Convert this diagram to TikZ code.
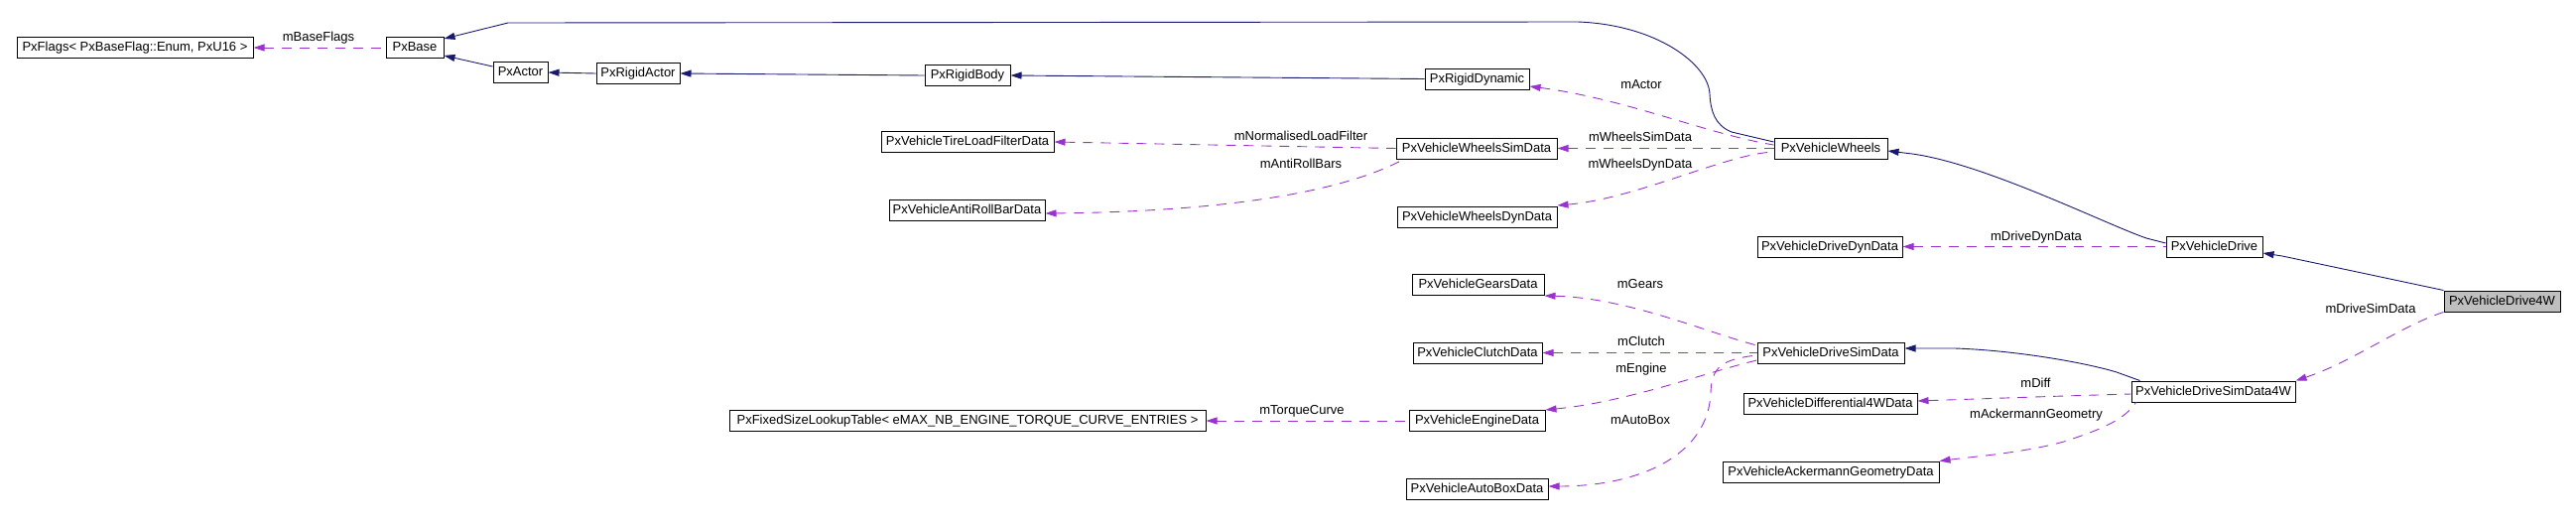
\documentclass[tikz,border=0pt]{standalone}
\usepackage{fontspec}
\setmainfont{Liberation Sans}
\usetikzlibrary{arrows.meta}
\definecolor{navyedge}{RGB}{25,25,112}
\definecolor{purpedge}{RGB}{154,50,205}
\definecolor{graybox}{RGB}{191,191,191}
\begin{document}
\begin{tikzpicture}[x=1pt,y=-1pt,
  cls/.style={draw=black, line width=1pt, fill=white, inner xsep=2pt, inner ysep=0pt,
    minimum height=21pt, font=\fontsize{13pt}{15pt}\selectfont, text height=9.5pt, text depth=2.5pt},
  inherit/.style={draw=navyedge, line width=0.9pt, {Triangle[length=11pt,width=7pt]}-},
  member/.style={draw=purpedge, line width=0.9pt, dash pattern=on 10pt off 8pt, {Triangle[length=11pt,width=7pt]}-},
  lbl/.style={font=\fontsize{13pt}{15pt}\selectfont, inner sep=0pt, text height=9.5pt, text depth=2.5pt}]
\useasboundingbox[fill=white] (0,0) rectangle (2596,528);

% nodes
\node[cls, minimum width=238pt] (flags) at (136,48) {PxFlags< PxBaseFlag::Enum, PxU16 >};
\node[cls, minimum width=58pt] (base) at (418,48) {PxBase};
\node[cls, minimum width=55pt] (actor) at (524.5,73) {PxActor};
\node[cls, minimum width=84pt] (rigidactor) at (643,74) {PxRigidActor};
\node[cls, minimum width=86pt] (rigidbody) at (975,76) {PxRigidBody};
\node[cls, minimum width=105pt] (rigiddynamic) at (1488.5,79.5) {PxRigidDynamic};
\node[cls, minimum width=174pt] (tireload) at (975,143) {PxVehicleTireLoadFilterData};
\node[cls, minimum width=157pt] (antiroll) at (974.5,212) {PxVehicleAntiRollBarData};
\node[cls, minimum width=480pt] (lookup) at (975,424) {PxFixedSizeLookupTable< eMAX\_NB\_ENGINE\_TORQUE\_CURVE\_ENTRIES >};
\node[cls, minimum width=162pt] (wheelssim) at (1488,149.5) {PxVehicleWheelsSimData};
\node[cls, minimum width=161pt] (wheelsdyn) at (1488.5,218.5) {PxVehicleWheelsDynData};
\node[cls, minimum width=133pt] (gears) at (1489.5,287) {PxVehicleGearsData};
\node[cls, minimum width=130pt] (clutch) at (1489,355.5) {PxVehicleClutchData};
\node[cls, minimum width=137pt] (engine) at (1488.5,424) {PxVehicleEngineData};
\node[cls, minimum width=143pt] (autobox) at (1488.5,492.5) {PxVehicleAutoBoxData};
\node[cls, minimum width=114pt] (wheels) at (1845,149.5) {PxVehicleWheels};
\node[cls, minimum width=146pt] (drivedyn) at (1844,248.5) {PxVehicleDriveDynData};
\node[cls, minimum width=148pt] (drivesim) at (1845,355.5) {PxVehicleDriveSimData};
\node[cls, minimum width=175pt] (diff4w) at (1844.5,407) {PxVehicleDifferential4WData};
\node[cls, minimum width=218pt] (ackermann) at (1845,475.5) {PxVehicleAckermannGeometryData};
\node[cls, minimum width=97pt] (drive) at (2231.5,248.5) {PxVehicleDrive};
\node[cls, minimum width=117pt, fill=graybox] (drive4w) at (2521.5,303.5) {PxVehicleDrive4W};
\node[cls, minimum width=165pt] (simdata4w) at (2230.5,394.5) {PxVehicleDriveSimData4W};

% inheritance edges
\draw[inherit] ([yshift=-8pt]base.east) -- ([yshift=6pt]actor.west);
\draw[inherit] (actor.east) -- (rigidactor.west);
\draw[inherit] (rigidactor.east) -- (rigidbody.west);
\draw[inherit] (rigidbody.east) -- (rigiddynamic.west);
\draw[inherit] ([yshift=9pt]base.east) -- (512,23) -- (1590,22)
  .. controls (1670,25) and (1722,65) .. (1723,95)
  .. controls (1724,112) and (1728,126) .. (1745,133) -- ([yshift=6.5pt]wheels.west);
\draw[inherit] ([yshift=-2.5pt]wheels.east) -- (1927,155)
  .. controls (2000,165) and (2120,225) .. (2163,240) -- ([yshift=3.5pt]drive.west);
\draw[inherit] ([yshift=-6.5pt]drive.east) -- (2300,258) -- (drive4w.north west);
\draw[inherit] ([yshift=4.5pt]drivesim.east) -- (1970,351)
  .. controls (2030,353) and (2100,365) .. (2133,375) -- ([xshift=9pt]simdata4w.north west);

% member edges
\draw[member] (flags.east) -- (base.west);
\draw[member] ([yshift=-7.5pt]rigiddynamic.east) .. controls (1640,100) and (1720,135) .. ([yshift=3.5pt]wheels.west);
\draw[member] (wheelssim.east) -- (wheels.west);
\draw[member] ([yshift=11.5pt]wheelsdyn.east) .. controls (1650,200) and (1740,155) .. ([yshift=-3.5pt]wheels.west);
\draw[member] (drivedyn.east) -- (drive.west);
\draw[member] (simdata4w.north east) .. controls (2370,365) and (2420,328) .. (drive4w.south west);
\draw[member] ([yshift=3pt]diff4w.east) -- (2080,399) -- ([yshift=-2.5pt]simdata4w.west);
\draw[member] (ackermann.north east) .. controls (1990,460) and (2040,456) .. (2080,445)
  .. controls (2110,435) and (2140,425) .. ([xshift=5pt]simdata4w.south west);
\draw[member] (gears.south east) .. controls (1640,300) and (1720,335) .. ([yshift=7.5pt]drivesim.west);
\draw[member] (clutch.east) -- (drivesim.west);
\draw[member] (engine.north east) .. controls (1640,405) and (1720,375) .. ([yshift=-7.5pt]drivesim.west);
\draw[member] ([yshift=2.5pt]autobox.east) .. controls (1650,490) and (1722,460) .. (1724,395)
  .. controls (1725,370) and (1735,362) .. ([yshift=-2.5pt]drivesim.west);
\draw[member] (tireload.east) -- (wheelssim.west);
\draw[member] ([yshift=-3pt]antiroll.east) .. controls (1250,213) and (1360,190) .. ([xshift=8pt]wheelssim.south west);
\draw[member] (lookup.east) -- (engine.west);

% labels
\node[lbl] (lBaseFlags) at (321,38) {mBaseFlags};
\node[lbl] (lNormLoad) at (1311,138) {mNormalisedLoadFilter};
\node[lbl] (lAntiRoll) at (1311,166) {mAntiRollBars};
\node[lbl] (lTorque) at (1312,414) {mTorqueCurve};
\node[lbl] (lActor) at (1654,86) {mActor};
\node[lbl] (lWSim) at (1653,139) {mWheelsSimData};
\node[lbl] (lWDyn) at (1653,166) {mWheelsDynData};
\node[lbl] (lGears) at (1653,287) {mGears};
\node[lbl] (lClutch) at (1654,345) {mClutch};
\node[lbl] (lEngine) at (1654,372) {mEngine};
\node[lbl] (lAutoBox) at (1653,424) {mAutoBox};
\node[lbl] (lDriveDyn) at (2052,239) {mDriveDynData};
\node[lbl] (lDiff) at (2051.5,387) {mDiff};
\node[lbl] (lAcker) at (2052,418) {mAckermannGeometry};
\node[lbl] (lDriveSim) at (2389,312) {mDriveSimData};
\end{tikzpicture}
\end{document}
